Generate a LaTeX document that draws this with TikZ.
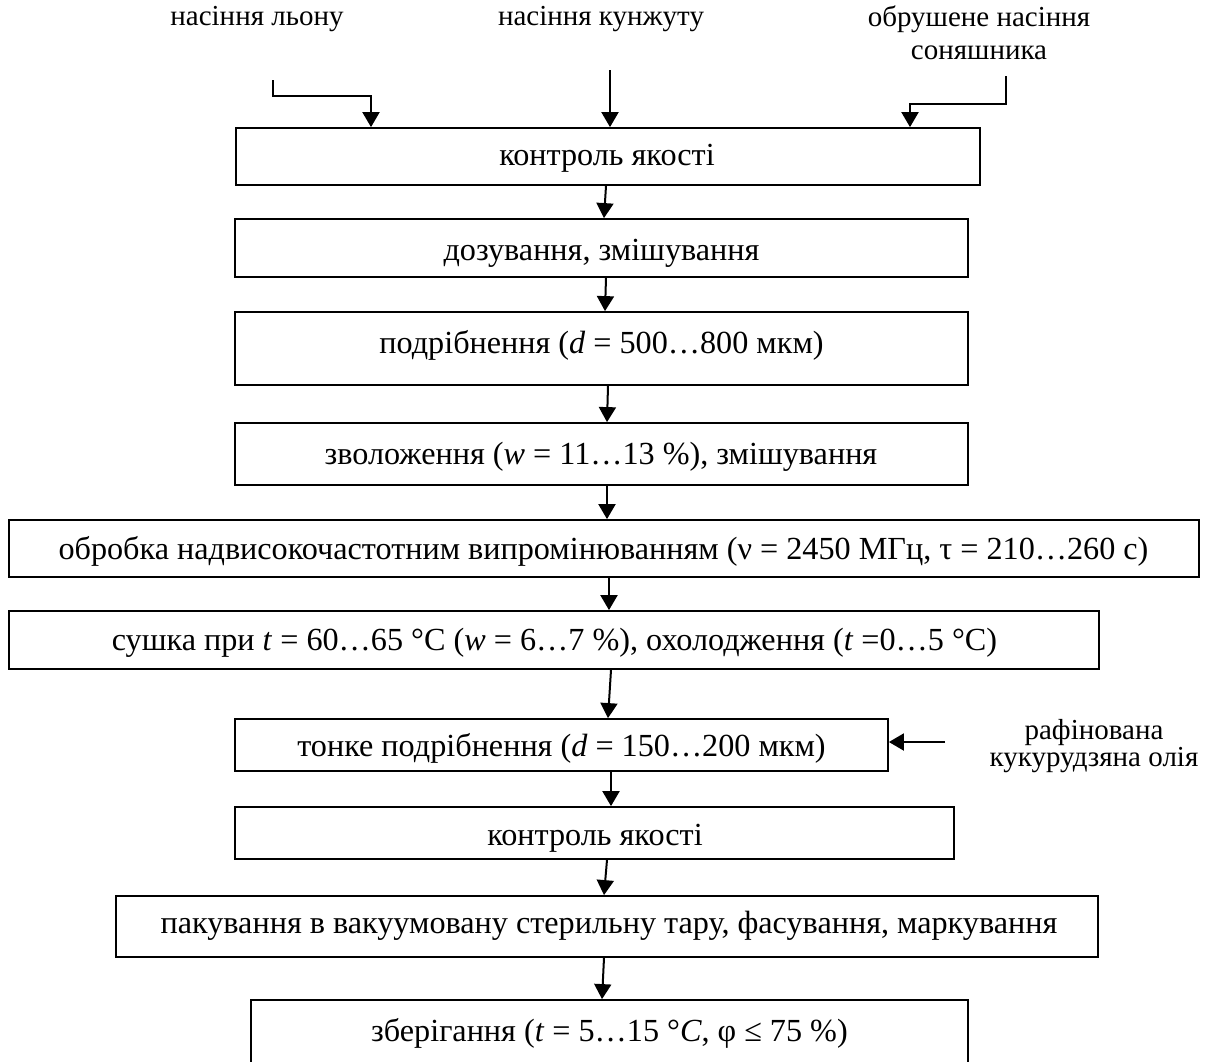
\documentclass[tikz,border=0pt]{standalone}
\usepackage{fontspec}
\setmainfont{Liberation Serif}
\usetikzlibrary{arrows.meta}
\newcommand\mytightls{\setlength{\lineskiplimit}{-50pt}\setlength{\lineskip}{0pt}}
\begin{document}
\begin{tikzpicture}[x=1pt,y=-1pt,
  box/.style={draw, line width=1.8pt, inner sep=0pt},
  txt/.style={anchor=base, inner sep=0pt, font=\fontsize{32.2}{36}\selectfont},
  lbl/.style={inner sep=0pt, align=center, anchor=base},
  arr/.style={line width=2pt, -{Triangle[width=17pt,length=15pt]}}]
\useasboundingbox (0,0) rectangle (1207,1061);
\clip (0,0) rectangle (1207,1061);
% boxes
\node[box, minimum width=744pt, minimum height=57pt] (b1) at (608,156.5) {};
\node[box, minimum width=733pt, minimum height=58pt] (b2) at (601.5,248) {};
\node[box, minimum width=733pt, minimum height=73pt] (b3) at (601.5,348.5) {};
\node[box, minimum width=733pt, minimum height=62pt] (b4) at (601.5,454) {};
\node[box, minimum width=1190pt, minimum height=57pt] (b5) at (604,548.5) {};
\node[box, minimum width=1090pt, minimum height=58pt] (b6) at (554,640) {};
\node[box, minimum width=653pt, minimum height=52pt] (b7) at (561.5,745) {};
\node[box, minimum width=719pt, minimum height=52pt] (b8) at (594.5,833) {};
\node[box, minimum width=982pt, minimum height=61pt] (b9) at (607,926.5) {};
\node[box, minimum width=717pt, minimum height=80pt] (b10) at (609.5,1040) {};
% box texts
\node[txt] (t1) at (607,165) {контроль якості};
\node[txt] (t2) at (601.5,260) {дозування, змішування};
\node[txt] (t3) at (601.5,353) {подрібнення (\textit{d} = 500…800 мкм)};
\node[txt] (t4) at (601,464) {зволоження (\textit{w} = 11…13 \%), змішування};
\node[txt] (t5) at (603.5,559) {обробка надвисокочастотним випромінюванням (ν = 2450 МГц, τ = 210…260 с)};
\node[txt] (t6) at (554.5,650) {сушка при \textit{t} = 60…65 °C (\textit{w} = 6…7 \%), охолодження (\textit{t} =0…5 °C)};
\node[txt] (t7) at (561.5,756) {тонке подрібнення (\textit{d} = 150…200 мкм)};
\node[txt] (t8) at (595,845) {контроль якості};
\node[txt] (t9) at (609,933) {пакування в вакуумовану стерильну тару, фасування, маркування};
\node[txt] (t10) at (609.5,1041) {зберігання (\textit{t} = 5…15 °\textit{C}, φ ≤ 75 \%)};
% outside labels
\node[lbl, font=\fontsize{29}{31}\selectfont] (l1) at (257,25) {насіння льону};
\node[lbl, font=\fontsize{29}{31}\selectfont] (l2) at (601,25) {насіння кунжуту};
\node[lbl, font=\fontsize{29}{33}\selectfont\mytightls] (l3) at (979,59) {обрушене насіння\\соняшника};
\node[lbl, font=\fontsize{29}{27}\selectfont\mytightls] (l4) at (1094,766) {рафінована\\кукурудзяна олія};
% input arrows
\coordinate (c1) at (273,80);
\coordinate (k1) at (371,96);
\draw[arr] (c1) |- (k1) -- (k1 |- b1.north);
\coordinate (c2) at (610,70);
\draw[arr] (c2) -- (c2 |- b1.north);
\coordinate (c3) at (1006,76);
\coordinate (k3) at (910,104);
\draw[arr] (c3) |- (k3) -- (k3 |- b1.north);
\coordinate (c4) at (945,742);
\draw[arr] (c4) -- (c4 -| b7.east);
% flow arrows
\draw[arr] (b1.south -| 606,0) -- (b2.north -| 604,0);
\draw[arr] (b2.south -| 606,0) -- (b3.north -| 605,0);
\draw[arr] (b3.south -| 608,0) -- (b4.north -| 607,0);
\draw[arr] (b4.south -| 607,0) -- (b5.north -| 607,0);
\draw[arr] (b5.south -| 609,0) -- (b6.north -| 609,0);
\draw[arr] (b6.south -| 611,0) -- (b7.north -| 608,0);
\draw[arr] (b7.south -| 611,0) -- (b8.north -| 611,0);
\draw[arr] (b8.south -| 607,0) -- (b9.north -| 604,0);
\draw[arr] (b9.south -| 604,0) -- (b10.north -| 602,0);
\end{tikzpicture}
\end{document}
